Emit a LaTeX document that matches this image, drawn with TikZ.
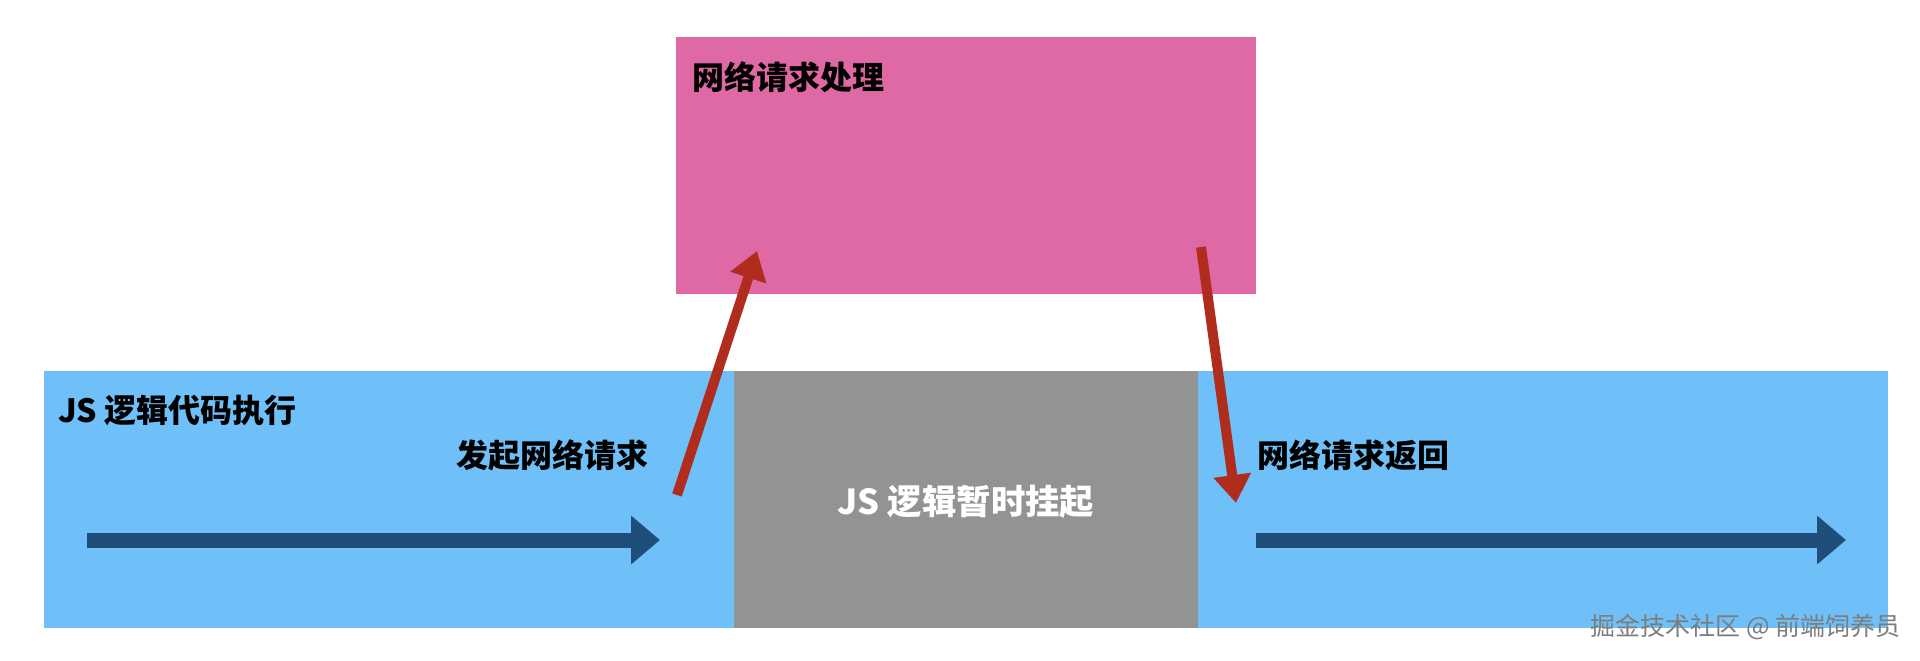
\documentclass[tikz,border=0pt]{standalone}
\usepackage{fontspec}
\setmainfont{Noto Sans CJK SC}
\usetikzlibrary{arrows.meta}
\definecolor{bandblue}{RGB}{111,191,248}
\definecolor{pinkbox}{RGB}{223,105,165}
\definecolor{graybox}{RGB}{147,147,147}
\definecolor{arrowblue}{RGB}{31,78,122}
\definecolor{arrowred}{RGB}{176,45,30}
\definecolor{wmgray}{RGB}{125,125,125}
\begin{document}
\begin{tikzpicture}[x=0.5pt,y=-0.5pt,
  region/.style={draw=none,inner sep=0pt,outer sep=0pt,anchor=north west},
  label/.style={inner sep=0pt,outer sep=0pt,anchor=west,font=\bfseries\fontsize{16}{16}\selectfont},
  timeline/.style={draw=arrowblue,line width=7.5pt,-{Triangle[length=14.5pt,width=23.5pt]}},
  callarrow/.style={draw=arrowred,line width=5pt,-{Triangle[length=14pt,width=18pt]}}]
\useasboundingbox (0,0) rectangle (1920,660);
% regions
\node[region,fill=bandblue,minimum width=922pt,minimum height=128.5pt] (band) at (44,371) {};
\node[region,fill=graybox,minimum width=232pt,minimum height=128.5pt] (pause) at (734,371) {};
\node[region,fill=pinkbox,minimum width=290pt,minimum height=128.5pt] (net) at (676,37) {};
% labels
\node[label] (netlbl) at (692,77) {网络请求处理};
\node[label] (jslbl) at (58,410) {JS 逻辑代码执行};
\node[label] (sendlbl) at (456,455) {发起网络请求};
\node[label] (backlbl) at (1257,455) {网络请求返回};
\node[label,anchor=center,text=white,font=\bfseries\fontsize{17.2}{17.2}\selectfont] (pauselbl) at (966,502) {JS 逻辑暂时挂起};
\node[inner sep=0pt,anchor=west,text=wmgray,font=\fontsize{12.5}{12.5}\selectfont] (wm) at (1590,627) {掘金技术社区 @ 前端饲养员};
% connector end points
\coordinate (t1s) at (87,540);
\coordinate (t1e) at (660,540);
\coordinate (t2s) at (1256,540);
\coordinate (t2e) at (1846,540);
\coordinate (ups) at (677,495);
\coordinate (upe) at (757,251);
\coordinate (dns) at (1201,247);
\coordinate (dne) at (1236,503);
% connectors
\draw[timeline] (t1s) -- (t1e);
\draw[timeline] (t2s) -- (t2e);
\draw[callarrow] (ups) -- (upe);
\draw[callarrow] (dns) -- (dne);
\end{tikzpicture}
\end{document}
